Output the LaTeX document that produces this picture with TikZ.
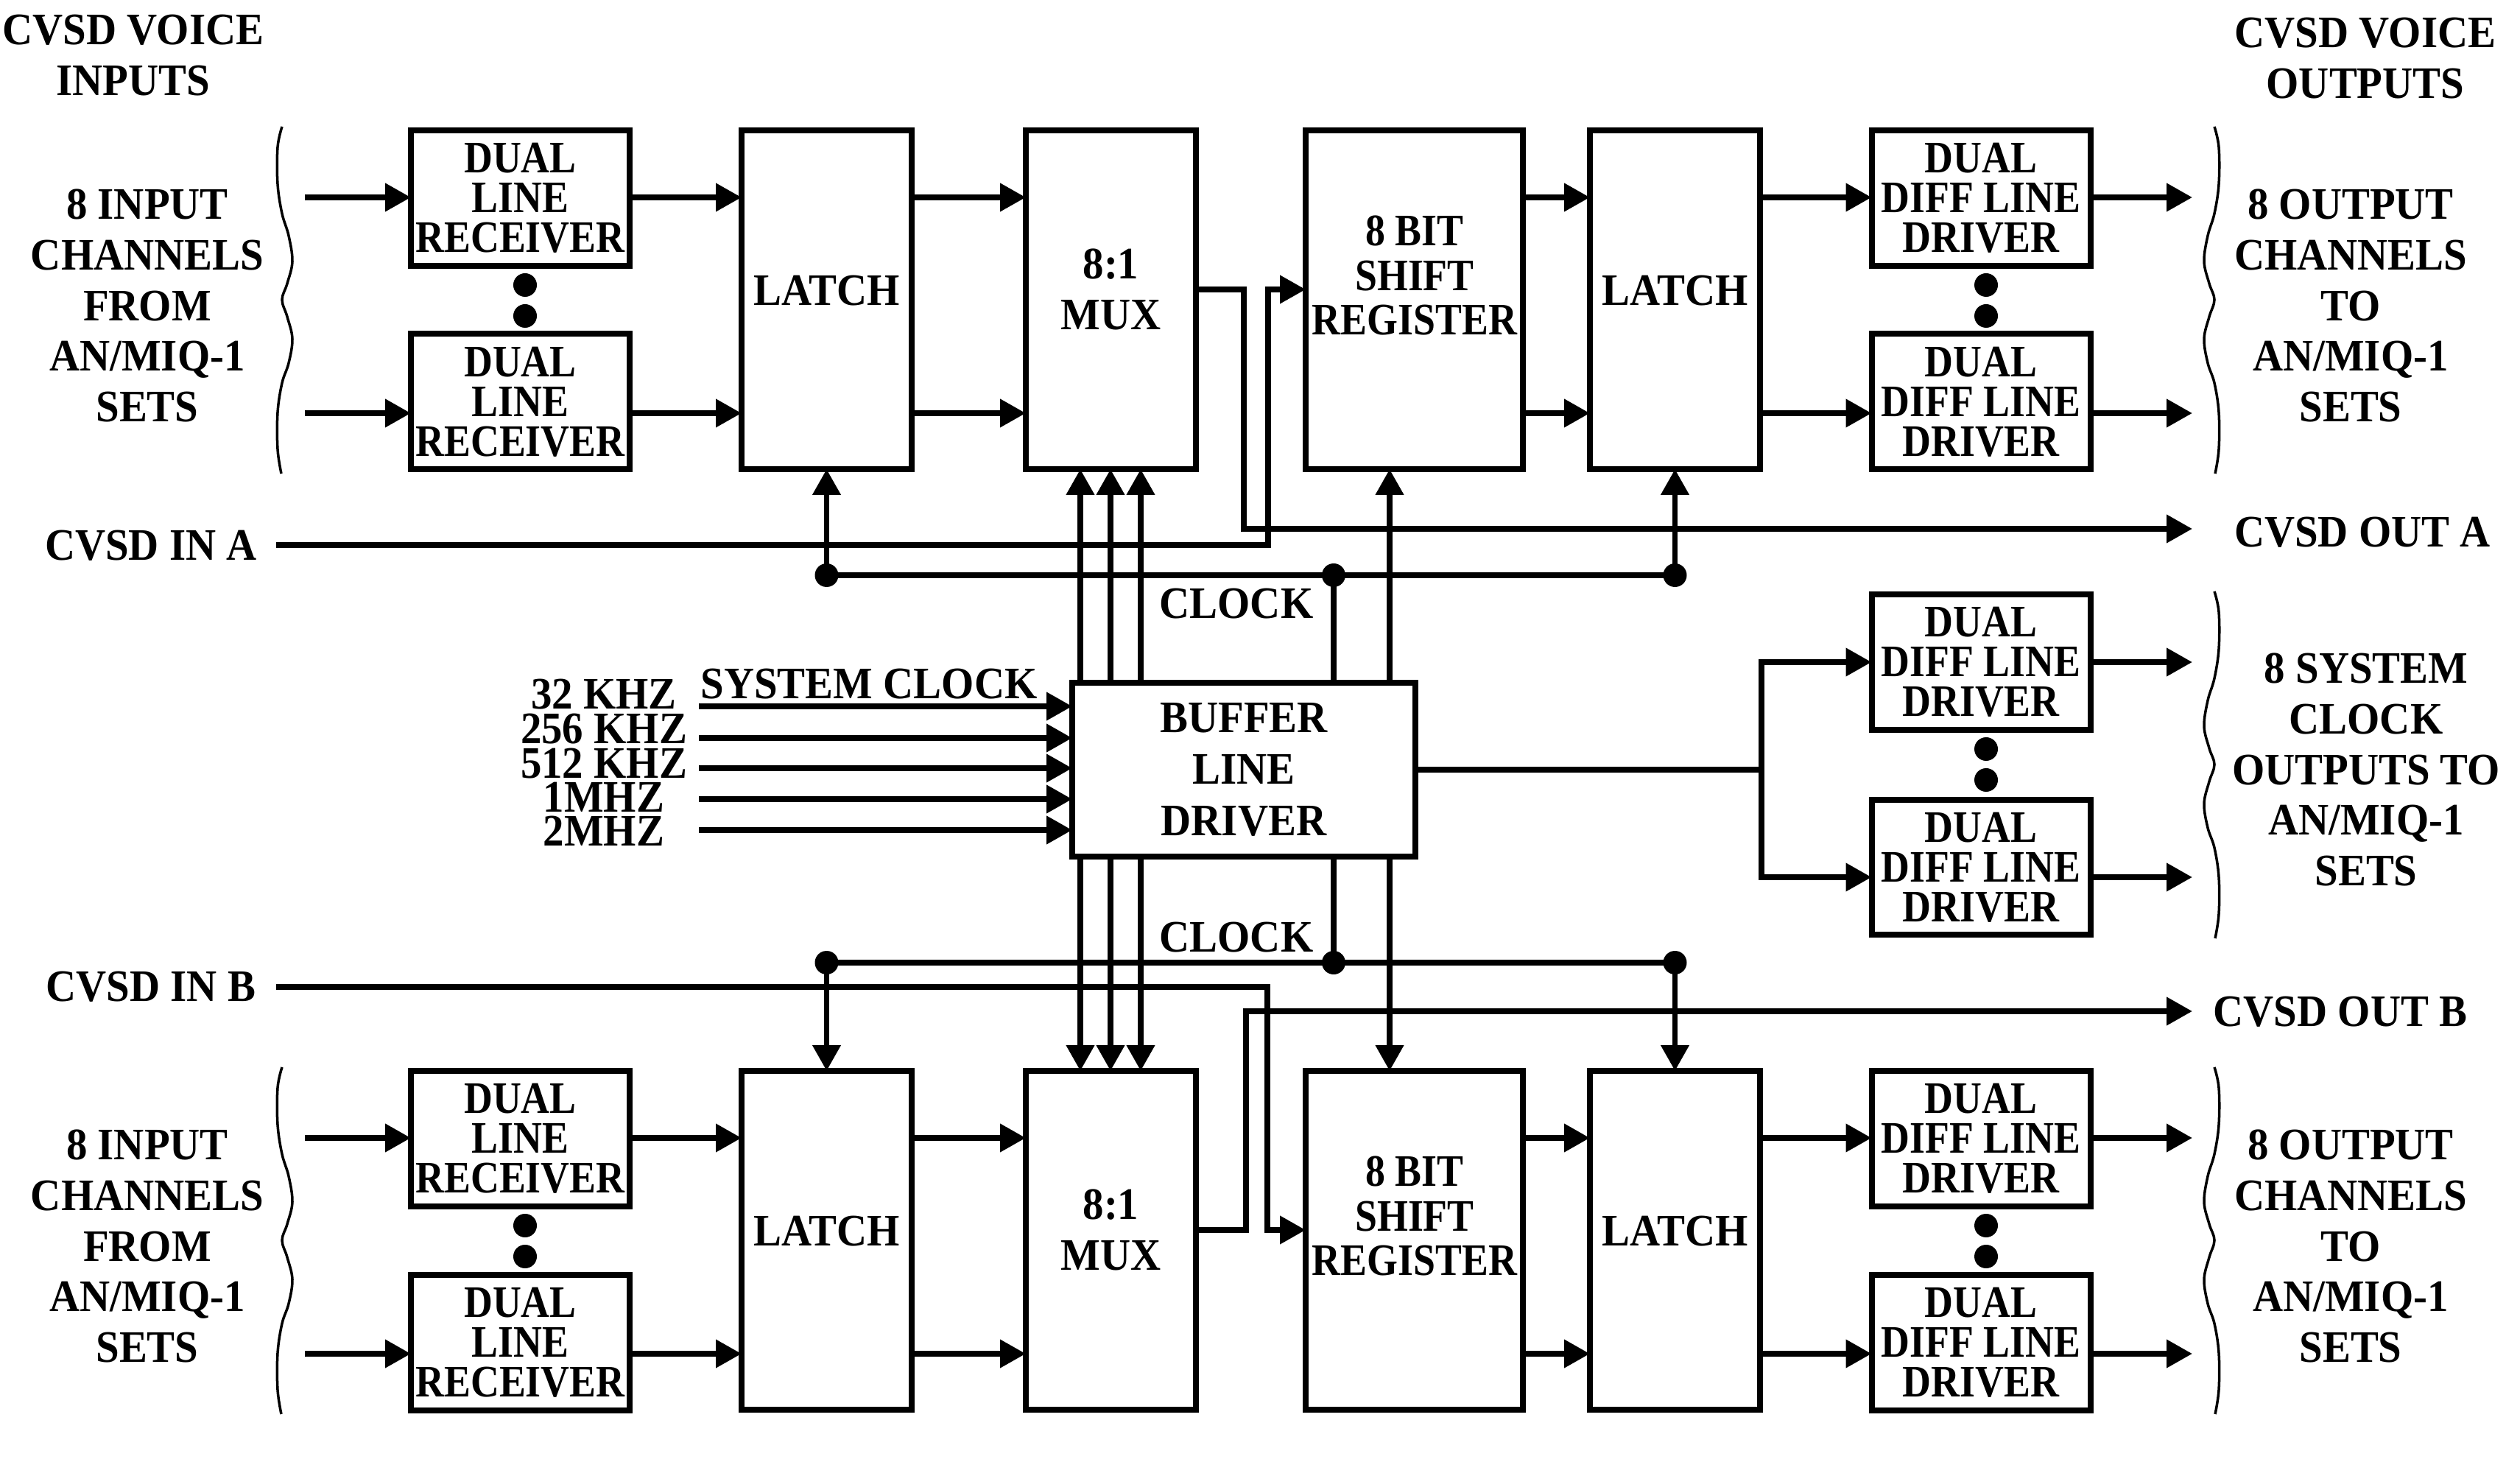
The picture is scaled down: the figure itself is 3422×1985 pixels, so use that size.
\documentclass[tikz,border=0pt]{standalone}
\usepackage{fontspec}
\setmainfont{Liberation Serif}[FakeStretch=0.93]
\newfontfamily\boxfont{Liberation Serif}[FakeStretch=0.88]
\usetikzlibrary{arrows.meta}
\newcommand\dgfont[1]{\fontsize{17.4}{#1}\selectfont\bfseries}
\begin{document}
\begin{tikzpicture}[x=0.1mm,y=-0.1mm,
  box/.style={draw,line width=0.8mm,inner sep=0,outer sep=0,align=center,font=\boxfont\dgfont{15.4pt}},
  small/.style={box,minimum width=29.7mm,minimum height=18.4mm},
  tall/.style={box,minimum width=23.1mm,minimum height=46mm},
  wire/.style={line width=0.75mm},
  arr/.style={wire,-{Triangle[length=3.5mm,width=3.7mm]}},
  lab/.style={inner sep=0,align=center,font=\dgfont{#1}},
  lab/.default=19.6pt,
  flab/.style={inner sep=0,text height=4.0mm,text depth=0mm,font=\dgfont{19.6pt}},
  brace/.style={line width=0.35mm},
  dot/.style={fill=black}]
\useasboundingbox (0,0) rectangle (3422,1985);

% ---------- titles ----------
\node[lab=19.5pt] (tin) at (181,75) {CVSD VOICE\\INPUTS};
\node[lab=19.5pt] (tout) at (3212,79) {CVSD VOICE\\OUTPUTS};

% ---------- common x positions ----------
\coordinate (outx) at (2977,0);
\coordinate (srk) at (1887,0);
\coordinate (ck) at (1811,0);

% ---------- upper and lower channel sections ----------
\foreach \s/\d in {a/0,b/1277}{
  \node[small] (rx1\s) at (706.5,{269+\d}) {DUAL\\LINE\\RECEIVER};
  \node[small] (rx2\s) at (706.5,{545.5+\d}) {DUAL\\LINE\\RECEIVER};
  \node[tall] (lt1\s) at (1122.5,{407+\d}) {};
  \node[tall] (mux\s) at (1508.5,{407+\d}) {};
  \node[tall,minimum width=29.5mm] (sr\s) at (1920.5,{407+\d}) {};
  \node[tall] (lt2\s) at (2274.5,{407+\d}) {};
  \node[small] (dr1\s) at (2690,{269+\d}) {DUAL\\DIFF LINE\\DRIVER};
  \node[small] (dr2\s) at (2690,{545.5+\d}) {DUAL\\DIFF LINE\\DRIVER};
  \node[lab] (lt1t\s) at (1122.5,{395+\d}) {LATCH};
  \node[lab=19.4pt] (muxt\s) at (1508.5,{393+\d}) {8:1\\MUX};
  \node[lab=17.1pt,font=\boxfont\dgfont{17.1pt}] (srt\s) at (1921,{374+\d}) {8 BIT\\SHIFT\\REGISTER};
  \node[lab] (lt2t\s) at (2274.5,{395+\d}) {LATCH};
  \node[lab] (lin\s) at (200,{415+\d}) {8 INPUT\\CHANNELS\\FROM\\AN/MIQ-1\\SETS};
  \node[lab] (rout\s) at (3192,{415+\d}) {8 OUTPUT\\CHANNELS\\TO\\AN/MIQ-1\\SETS};
  % ellipsis dots
  \fill[dot] (713,{387+\d}) circle (1.6mm);
  \fill[dot] (713,{429+\d}) circle (1.6mm);
  \fill[dot] (2697,{387+\d}) circle (1.6mm);
  \fill[dot] (2697,{429+\d}) circle (1.6mm);
  % braces
  \draw[brace,shift={(383,{172+\d})}] plot[smooth,tension=0.6] coordinates
    {(0,0) (-6,28) (-6,78) (0,118) (9,148) (14,183) (7,213) (0,235) (7,258) (14,288) (9,321) (0,348) (-6,388) (-6,438) (-1,471)};
  \draw[brace,shift={(3007,{172+\d})}] plot[smooth,tension=0.6] coordinates
    {(0,0) (6,28) (6,78) (0,118) (-9,148) (-14,183) (-7,213) (0,235) (-7,258) (-14,288) (-9,321) (0,348) (6,388) (6,438) (1,471)};
  % signal rows
  \coordinate (row1\s) at (0,{268+\d});
  \coordinate (row2\s) at (0,{561+\d});
  \coordinate (src1\s) at (414,{268+\d});
  \coordinate (src2\s) at (414,{561+\d});
  \draw[arr] (src1\s) -- (rx1\s.west |- row1\s);
  \draw[arr] (src2\s) -- (rx2\s.west |- row2\s);
  \draw[arr] (rx1\s.east |- row1\s) -- (lt1\s.west |- row1\s);
  \draw[arr] (rx2\s.east |- row2\s) -- (lt1\s.west |- row2\s);
  \draw[arr] (lt1\s.east |- row1\s) -- (mux\s.west |- row1\s);
  \draw[arr] (lt1\s.east |- row2\s) -- (mux\s.west |- row2\s);
  \draw[arr] (sr\s.east |- row1\s) -- (lt2\s.west |- row1\s);
  \draw[arr] (sr\s.east |- row2\s) -- (lt2\s.west |- row2\s);
  \draw[arr] (lt2\s.east |- row1\s) -- (dr1\s.west |- row1\s);
  \draw[arr] (lt2\s.east |- row2\s) -- (dr2\s.west |- row2\s);
  \draw[arr] (dr1\s.east |- row1\s) -- (outx |- row1\s);
  \draw[arr] (dr2\s.east |- row2\s) -- (outx |- row2\s);
}

% ---------- buffer line driver ----------
\node[box,minimum width=46.6mm,minimum height=23.6mm,font=\dgfont{19.9pt}] (buf) at (1689,1045) {BUFFER\\LINE\\DRIVER};

\node[lab] (sysclk) at (1180,929) {SYSTEM CLOCK};
\foreach \y/\ly/\t [count=\i] in {959/943/32 KHZ,1002/990/256 KHZ,1043/1036/512 KHZ,1085/1083/1MHZ,1127/1129/2MHZ}{
  \node[flab] (fql\i) at (820,\ly) {\t};
  \coordinate (fq\i) at (949,\y);
  \draw[arr] (fq\i) -- (buf.west |- fq\i);
}

% mux select lines
\foreach \x [count=\i] in {1467,1508,1549}{
  \coordinate (mk\i) at (\x,0);
  \draw[arr] (buf.north -| mk\i) -- (muxa.south -| mk\i);
  \draw[arr] (buf.south -| mk\i) -- (muxb.north -| mk\i);
}
% shift register clocks
\draw[arr] (buf.north -| srk) -- (sra.south -| srk);
\draw[arr] (buf.south -| srk) -- (srb.north -| srk);

% clock buses
\coordinate (busa) at (0,781);
\coordinate (busb) at (0,1307);
\draw[wire] (lt1a.south |- busa) -- (lt2a.south |- busa);
\draw[wire] (lt1b.north |- busb) -- (lt2b.north |- busb);
\draw[wire] (buf.north -| ck) -- (ck |- busa);
\draw[wire] (buf.south -| ck) -- (ck |- busb);
\draw[arr] (lt1a.south |- busa) -- (lt1a.south);
\draw[arr] (lt2a.south |- busa) -- (lt2a.south);
\draw[arr] (lt1b.north |- busb) -- (lt1b.north);
\draw[arr] (lt2b.north |- busb) -- (lt2b.north);
\foreach \p in {lt1a.south |- busa, lt2a.south |- busa, ck |- busa, lt1b.north |- busb, lt2b.north |- busb, ck |- busb}{
  \fill[dot] (\p) circle (1.6mm);
}
\node[lab] (clka) at (1679,820) {CLOCK};
\node[lab] (clkb) at (1679,1273) {CLOCK};

% CVSD serial in / out A
\node[lab] (cina) at (205,741) {CVSD IN A};
\coordinate (cinas) at (375,740);
\coordinate (bina) at (1722,393);
\draw[arr] (cinas) -| (bina) -- (sra.west |- bina);
\coordinate (boa) at (1689,718);
\draw[arr] (muxa.east |- bina) -| (boa) -- (outx |- boa);
\node[lab] (couta) at (3208,723) {CVSD OUT A};

% CVSD serial in / out B
\node[lab] (cinb) at (205,1340) {CVSD IN B};
\coordinate (cinbs) at (375,1340);
\coordinate (binb) at (1721,1670);
\draw[arr] (cinbs) -| (binb) -- (srb.west |- binb);
\coordinate (bob) at (1692,1373);
\draw[arr] (muxb.east |- binb) -| (bob) -- (outx |- bob);
\node[lab] (coutb) at (3178,1374) {CVSD OUT B};

% ---------- system clock output drivers ----------
\node[small] (dr3) at (2690,899) {DUAL\\DIFF LINE\\DRIVER};
\node[small] (dr4) at (2690,1177.5) {DUAL\\DIFF LINE\\DRIVER};
\coordinate (bsplit) at (2392,1045);
\coordinate (row4) at (0,1191);
\draw[wire] (buf.east) -- (bsplit);
\draw[arr] (bsplit) |- (dr3.west);
\draw[arr] (bsplit) |- (dr4.west |- row4);
\draw[arr] (dr3.east) -- (outx |- dr3.east);
\draw[arr] (dr4.east |- row4) -- (outx |- row4);
\fill[dot] (2697,1017) circle (1.6mm);
\fill[dot] (2697,1059) circle (1.6mm);
\draw[brace,shift={(3007,803)}] plot[smooth,tension=0.6] coordinates
  {(0,0) (6,28) (6,78) (0,118) (-9,148) (-14,183) (-7,213) (0,235) (-7,258) (-14,288) (-9,321) (0,348) (6,388) (6,438) (1,471)};
\node[lab] (sysout) at (3213,1045) {8 SYSTEM\\CLOCK\\OUTPUTS TO\\AN/MIQ-1\\SETS};
\end{tikzpicture}
\end{document}
